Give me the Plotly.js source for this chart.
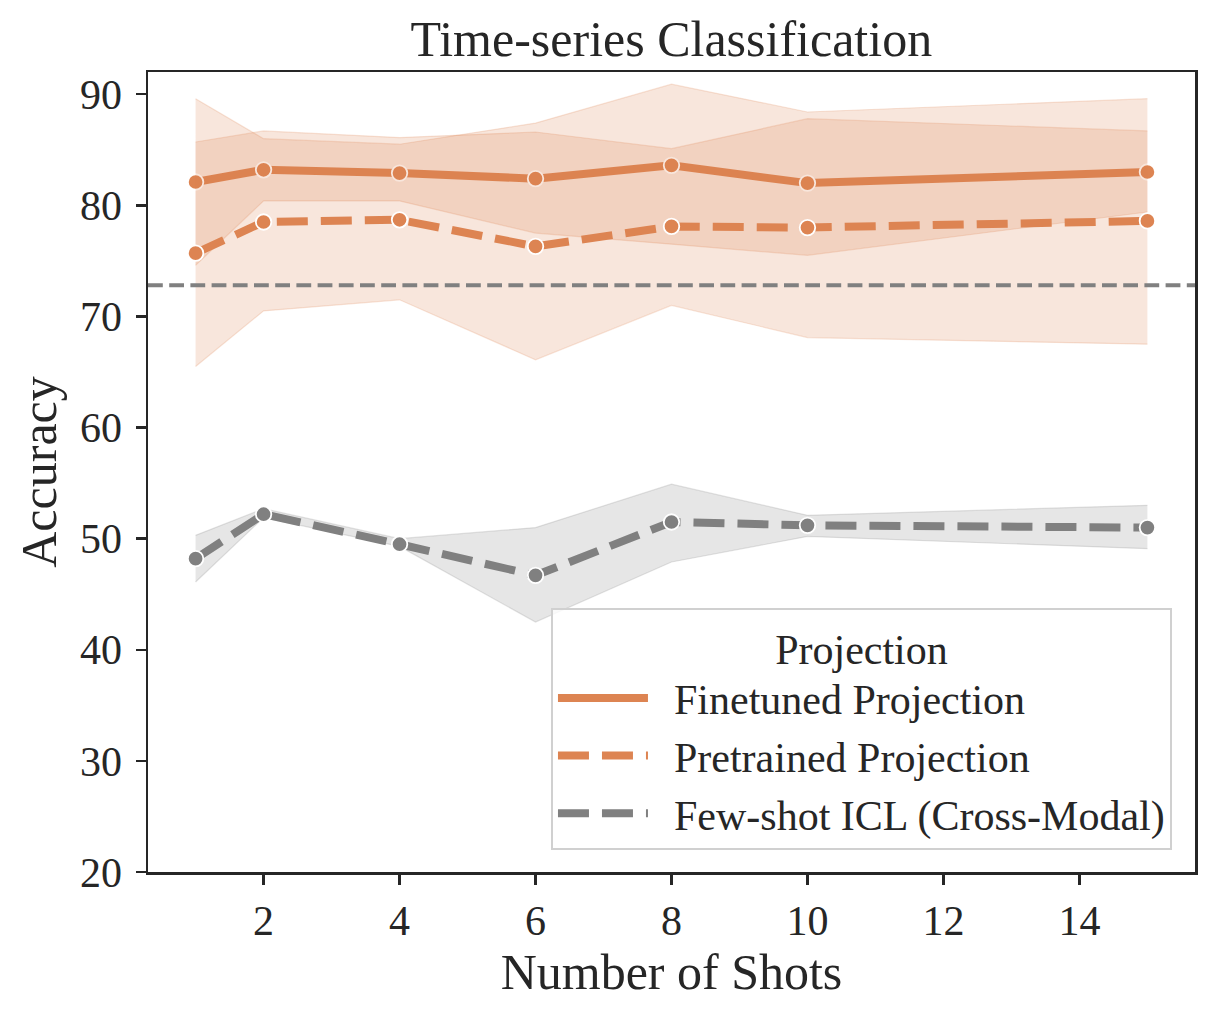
<!DOCTYPE html>
<html>
<head>
<meta charset="utf-8">
<script src="https://cdn.plot.ly/plotly-3.0.1.min.js"></script>
<style>html,body{margin:0;padding:0;background:#fff;}#chart{width:1215px;height:1018px;}</style>
</head>
<body>
<div id="chart"></div>
<script>
const shots = [1, 2, 4, 6, 8, 10, 15];
const finetuned = [82.1, 83.2, 82.9, 82.4, 83.6, 82.0, 83.0];
const finetunedLow = [74.6, 80.4, 80.4, 77.5, 76.5, 75.5, 79.4];
const finetunedHigh = [85.7, 86.7, 86.1, 86.6, 85.1, 87.8, 86.7];
const pretrained = [75.7, 78.5, 78.7, 76.3, 78.1, 78.0, 78.6];
const pretrainedLow = [65.5, 70.5, 71.5, 66.1, 71.0, 68.1, 67.5];
const pretrainedHigh = [89.6, 86.0, 85.5, 87.4, 90.9, 88.4, 89.6];
const icl = [48.2, 52.2, 49.5, 46.7, 51.5, 51.2, 51.0];
const iclLow = [46.1, 51.9, 49.3, 42.5, 47.9, 50.2, 49.1];
const iclHigh = [50.3, 52.7, 50.0, 51.0, 54.9, 52.1, 53.0];
const baseline = 72.8;
const seriesNames = ["Finetuned Projection", "Pretrained Projection", "Few-shot ICL (Cross-Modal)"];
const xTicks = [2, 4, 6, 8, 10, 12, 14];
const yTicks = [20, 30, 40, 50, 60, 70, 80, 90];

const ORANGE = "#DD8452";
const GRAY = "#808080";
const FONT = "Liberation Serif, Times New Roman, serif";
const TXT = "#262626";

function band(x, lo, hi, fill, edge) {
  return [
    {x: x, y: hi, type: "scatter", mode: "lines", line: {color: edge, width: 1.2},
     showlegend: false, hoverinfo: "skip"},
    {x: x, y: lo, type: "scatter", mode: "lines", line: {color: edge, width: 1.2},
     fill: "tonexty", fillcolor: fill, showlegend: false, hoverinfo: "skip"}
  ];
}
function meanLine(x, y, color, dash) {
  return {x: x, y: y, type: "scatter", mode: "lines+markers",
    line: {color: color, width: 8, dash: dash},
    marker: {size: 15.5, color: color, line: {color: "#ffffff", width: 1.8}},
    showlegend: false, hoverinfo: "skip"};
}
function legendItem(name, color, dash, grp) {
  return {x: [null], y: [null], type: "scatter", mode: "lines", name: "\u2002" + name,
    legendgroup: grp, line: {color: color, width: 8, dash: dash}};
}

const oFill = "rgba(221,132,82,0.2)", oEdge = "rgba(221,132,82,0.22)";
const gFill = "rgba(128,128,128,0.2)", gEdge = "rgba(128,128,128,0.22)";
const dashP = "31px,13px";

const data = [].concat(
  band(shots, finetunedLow, finetunedHigh, oFill, oEdge),
  [meanLine(shots, finetuned, ORANGE, "solid")],
  band(shots, pretrainedLow, pretrainedHigh, oFill, oEdge),
  [meanLine(shots, pretrained, ORANGE, dashP)],
  band(shots, iclLow, iclHigh, gFill, gEdge),
  [meanLine(shots, icl, GRAY, dashP)],
  [legendItem(seriesNames[0], ORANGE, "solid", "a"),
   legendItem(seriesNames[1], ORANGE, dashP, "b"),
   legendItem(seriesNames[2], GRAY, dashP, "c")]
);

const layout = {
  width: 1215, height: 1018,
  margin: {l: 148, r: 20, t: 72, b: 146},
  paper_bgcolor: "#ffffff", plot_bgcolor: "#ffffff",
  font: {family: FONT, color: TXT, size: 42},
  title: {text: "Time-series Classification", font: {family: FONT, size: 50, color: TXT},
          x: 0.5525, xanchor: "center", y: 0.962, yanchor: "middle"},
  xaxis: {range: [0.3, 15.7], tickvals: xTicks, ticktext: xTicks.map(String),
    showgrid: false, zeroline: false, showline: true, mirror: true, linecolor: TXT, linewidth: 2.5,
    ticks: "outside", ticklen: 10, tickwidth: 2.5, tickcolor: TXT,
    tickfont: {family: FONT, size: 42, color: TXT},
    title: {text: "Number of Shots", font: {family: FONT, size: 50, color: TXT}, standoff: 10}},
  yaxis: {range: [20, 92], tickvals: yTicks, ticktext: yTicks.map(String),
    showgrid: false, zeroline: false, showline: true, mirror: true, linecolor: TXT, linewidth: 2.5,
    ticks: "outside", ticklen: 10, tickwidth: 2.5, tickcolor: TXT, ticklabelstandoff: 5,
    tickfont: {family: FONT, size: 42, color: TXT},
    title: {text: "Accuracy", font: {family: FONT, size: 50, color: TXT}, standoff: 8}},
  shapes: [{type: "line", xref: "paper", x0: 0, x1: 1, yref: "y", y0: baseline, y1: baseline,
    line: {color: GRAY, width: 4, dash: "14.8px,6.4px"}, layer: "above"}],
  legend: {x: 0.978, xanchor: "right", y: 0.028, yanchor: "bottom",
    bgcolor: "rgba(255,255,255,0.8)", bordercolor: "#d0d0d0", borderwidth: 2,
    font: {family: FONT, size: 42, color: TXT},
    title: {text: "Projection", side: "top center", font: {family: FONT, size: 42, color: TXT}},
    itemwidth: 90, tracegroupgap: 6, traceorder: "normal"},
  showlegend: true
};

Plotly.newPlot("chart", data, layout, {displayModeBar: false, staticPlot: true});
</script>
</body>
</html>
